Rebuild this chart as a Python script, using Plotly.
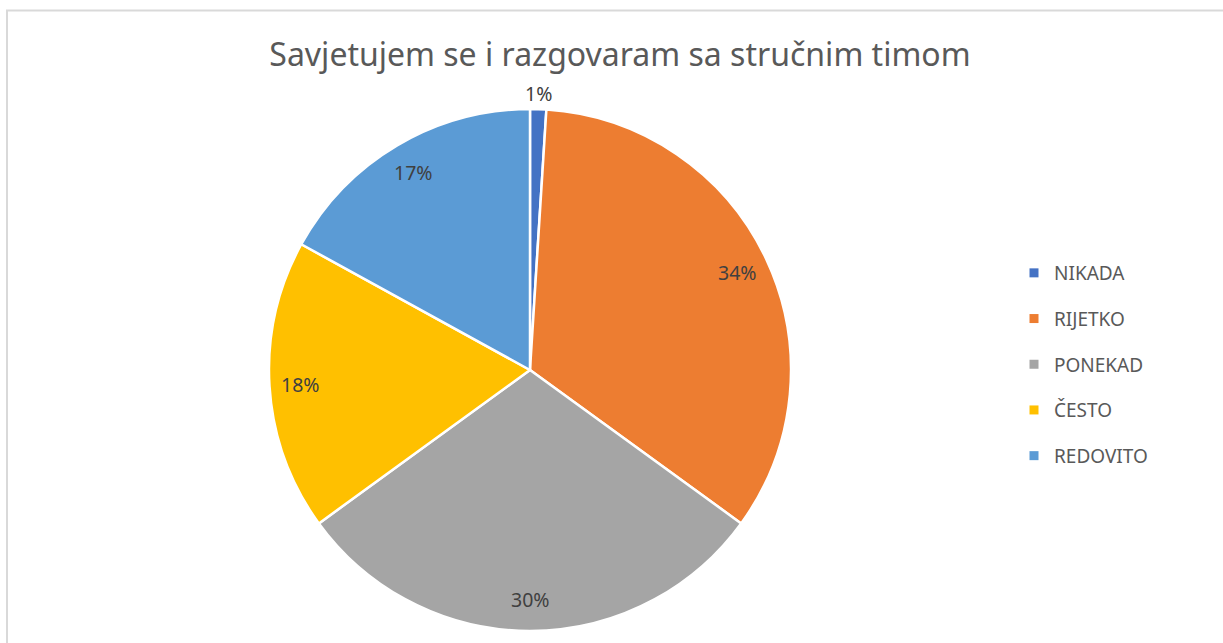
import math
import plotly.graph_objects as go

categories = ["NIKADA", "RIJETKO", "PONEKAD", "ČESTO", "REDOVITO"]
values = [1, 34, 30, 18, 17]
colors = ["#4472C4", "#ED7D31", "#A5A5A5", "#FFC000", "#5B9BD5"]
title = "Savjetujem se i razgovaram sa stručnim timom"

W, H = 1223, 643
cx, cy, R = 530, 370, 261  # pie centre / radius in pixels

fig = go.Figure()
fig.add_trace(go.Pie(
    labels=categories, values=values, sort=False, direction="clockwise",
    rotation=0, marker=dict(colors=colors, line=dict(color="white", width=2.5)),
    textinfo="none", hoverinfo="label+percent", showlegend=False,
    domain=dict(x=[(cx - R) / W, (cx + R) / W], y=[1 - (cy + R) / H, 1 - (cy - R) / H]),
))

# data labels from the values
total = sum(values)
cum = 0
for v in values:
    mid = (cum + v / 2) / total * 2 * math.pi
    cum += v
    frac = 1.06 if v / total < 0.03 else 0.88
    px = cx + frac * R * math.sin(mid)
    py = cy - frac * R * math.cos(mid)
    fig.add_annotation(x=px / W, y=1 - py / H, xref="paper", yref="paper",
                       xanchor="center", yanchor="middle",
                       text=f"{round(v / total * 100)}%", showarrow=False,
                       font=dict(family="Noto Sans", size=19.5, color="#404040"))

# legend entries via dummy traces
for c, col in zip(categories, colors):
    fig.add_trace(go.Scatter(x=[None], y=[None], mode="markers", name=c,
                             legendgroup=c,
                             marker=dict(symbol="square", size=9, color=col)))

fig.update_layout(
    width=W, height=H, autosize=False,
    margin=dict(l=0, r=0, t=0, b=0),
    paper_bgcolor="white", plot_bgcolor="white",
    xaxis=dict(visible=False), yaxis=dict(visible=False),
    title=dict(text=title, x=620 / W, xanchor="center", y=1 - 55 / H, yanchor="middle",
               font=dict(family="Noto Sans", size=32, color="#595959")),
    legend=dict(x=1014 / W, y=1 - 254 / H, xanchor="left", yanchor="top",
                font=dict(family="Noto Sans", size=19, color="#595959"),
                tracegroupgap=18, itemwidth=30, bgcolor="rgba(0,0,0,0)"),
    shapes=[dict(type="rect", xref="paper", yref="paper",
                 x0=7 / W, x1=1.01, y0=-0.05, y1=1 - 10.5 / H,
                 line=dict(color="#D9D9D9", width=2), fillcolor="rgba(0,0,0,0)",
                 layer="below")],
)

fig.write_html("out.html", config={"displayModeBar": False},
               post_script="document.body.style.margin='0';document.body.style.overflow='hidden';")
